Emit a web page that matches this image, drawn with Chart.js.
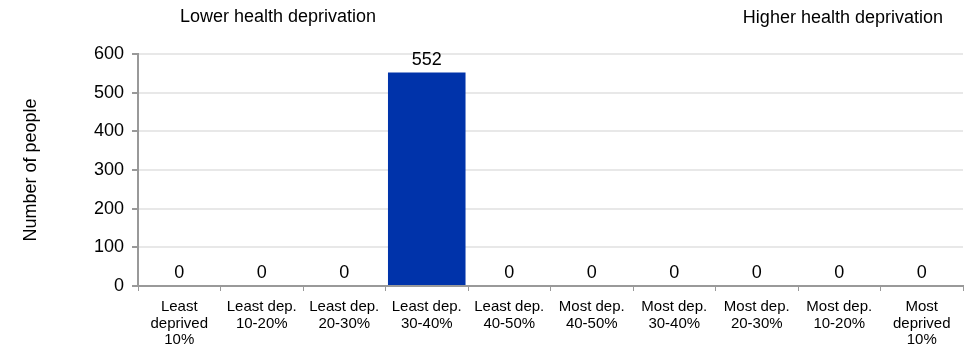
<!DOCTYPE html>
<html>
<head>
<meta charset="utf-8">
<script src="https://cdn.jsdelivr.net/npm/chart.js@4/dist/chart.umd.min.js"></script>
<style>
  html, body { margin: 0; padding: 0; background: #fff; }
  #wrap { width: 966px; height: 350px; position: relative; }
</style>
</head>
<body>
<div id="wrap"><canvas id="chart" width="966" height="350"></canvas></div>
<script>
const categories = [
  ['Least', 'deprived', '10%'],
  ['Least dep.', '10-20%'],
  ['Least dep.', '20-30%'],
  ['Least dep.', '30-40%'],
  ['Least dep.', '40-50%'],
  ['Most dep.', '40-50%'],
  ['Most dep.', '30-40%'],
  ['Most dep.', '20-30%'],
  ['Most dep.', '10-20%'],
  ['Most', 'deprived', '10%']
];
const people = [0, 0, 0, 552, 0, 0, 0, 0, 0, 0];
const yTicks = [0, 100, 200, 300, 400, 500, 600];

const FONT = '"Liberation Sans", Arial, sans-serif';

// value labels above each bar
const valueLabels = {
  id: 'valueLabels',
  afterDatasetsDraw(chart) {
    const ctx = chart.ctx;
    const meta = chart.getDatasetMeta(0);
    ctx.save();
    ctx.font = '18px ' + FONT;
    ctx.fillStyle = '#000';
    ctx.textAlign = 'center';
    ctx.textBaseline = 'alphabetic';
    meta.data.forEach((bar, i) => {
      ctx.fillText(String(people[i]), bar.x, bar.y - 8);
    });
    ctx.restore();
  }
};

// captions on top left / top right
const captions = {
  id: 'captions',
  afterDraw(chart) {
    const ctx = chart.ctx;
    ctx.save();
    ctx.font = '18px ' + FONT;
    ctx.fillStyle = '#000';
    ctx.textBaseline = 'middle';
    ctx.textAlign = 'left';
    ctx.fillText('Lower health deprivation', 180, 17);
    ctx.textAlign = 'right';
    ctx.fillText('Higher health deprivation', 943, 18);
    ctx.restore();
  }
};

new Chart(document.getElementById('chart').getContext('2d'), {
  type: 'bar',
  data: {
    labels: categories,
    datasets: [{
      data: people,
      backgroundColor: '#0033aa',
      barPercentage: 0.94,
      categoryPercentage: 1.0
    }]
  },
  options: {
    animation: false,
    responsive: false,
    layout: { padding: { top: 54, right: 3, left: 0, bottom: 0 } },
    plugins: { legend: { display: false }, tooltip: { enabled: false } },
    scales: {
      x: {
        offset: true,
        grid: {
          offset: true,
          drawOnChartArea: false,
          drawTicks: true,
          tickLength: 5,
          tickColor: '#999'
        },
        border: { color: '#999', width: 2 },
        ticks: {
          color: '#000',
          font: { family: FONT, size: 15, lineHeight: 1.1 },
          maxRotation: 0,
          autoSkip: false,
          padding: 8
        },
        afterFit(scale) { scale.height = 64; }
      },
      y: {
        min: 0,
        max: 600,
        afterBuildTicks(scale) { scale.ticks = yTicks.map(v => ({ value: v })); },
        grid: {
          color: '#e8e8e8',
          lineWidth: 2,
          tickLength: 6,
          tickColor: '#999'
        },
        border: { color: '#999', width: 2 },
        ticks: {
          color: '#000',
          font: { family: FONT, size: 18 },
          padding: 8
        },
        title: {
          display: true,
          text: 'Number of people',
          color: '#000',
          font: { family: FONT, size: 18 },
          padding: { top: 20, bottom: 0 }
        },
        afterFit(scale) { scale.width = 138; }
      }
    }
  },
  plugins: [valueLabels, captions]
});
</script>
</body>
</html>
